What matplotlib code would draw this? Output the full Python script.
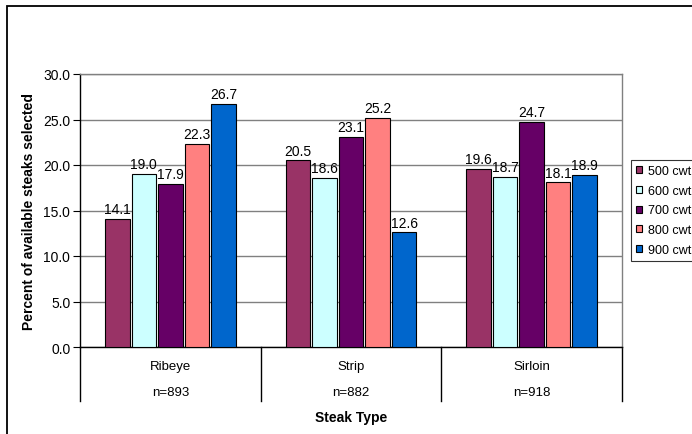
import numpy as np
import matplotlib.pyplot as plt
from matplotlib.patches import Rectangle
from matplotlib.transforms import blended_transform_factory

plt.rcParams['font.family'] = ['Liberation Sans', 'DejaVu Sans']

steaks = ['Ribeye', 'Strip', 'Sirloin']
counts = ['n=893', 'n=882', 'n=918']
weights = ['500 cwt', '600 cwt', '700 cwt', '800 cwt', '900 cwt']
pct = [
    [14.1, 20.5, 19.6],  # 500 cwt
    [19.0, 18.6, 18.7],  # 600 cwt
    [17.9, 23.1, 24.7],  # 700 cwt
    [22.3, 25.2, 18.1],  # 800 cwt
    [26.7, 12.6, 18.9],  # 900 cwt
]
colors = ['#993366', '#CCFFFF', '#660066', '#FF8080', '#0066CC']

fig = plt.figure(figsize=(6.92, 4.35), dpi=100)
fig.patches.append(Rectangle((7 / 692, -0.1), 1.2, 1 - 7 / 435 + 0.1,
                             transform=fig.transFigure, fill=False,
                             edgecolor='black', linewidth=1.3))

ax = fig.add_axes([80 / 692, 1 - 348 / 435, 542 / 692, 273 / 435])

x = np.arange(len(steaks))
step = 0.1467
width = 0.1356
for j, (vals, c) in enumerate(zip(pct, colors)):
    bars = ax.bar(x + (j - 2) * step, vals, width, color=c, edgecolor='black',
                  linewidth=0.8, label=weights[j], zorder=3)
    ax.bar_label(bars, fmt='%.1f', padding=2, fontsize=10)

ax.set_xlim(-0.5, 2.5)
ax.set_ylim(0, 30)
ax.set_yticks(np.arange(0, 31, 5))
ax.set_yticklabels([f'{v:.1f}' for v in np.arange(0, 31, 5)], fontsize=10)
ax.yaxis.grid(True, color='#808080', linewidth=1)
ax.tick_params(axis='y', length=5, width=0.8, pad=2)
ax.set_xticks([])

ax.spines['left'].set_color('black')
ax.spines['bottom'].set_color('black')
ax.spines['top'].set_color('#808080')
ax.spines['right'].set_color('#808080')
for s in ax.spines.values():
    s.set_linewidth(1)

ax.set_ylabel('Percent of available steaks selected', fontsize=10,
              fontweight='bold', labelpad=5)

# category table under the axis
trans = blended_transform_factory(ax.transData, ax.transAxes)
for b in [-0.5, 0.5, 1.5, 2.5]:
    ax.plot([b, b], [0, -54 / 273], transform=trans, color='black',
            linewidth=1, clip_on=False)
for i in x:
    ax.text(i, -19 / 273, steaks[i], transform=trans, ha='center',
            va='center', fontsize=9.5)
    ax.text(i, -45 / 273, counts[i], transform=trans, ha='center',
            va='center', fontsize=9.5)
ax.text(1, -70 / 273, 'Steak Type', transform=trans, ha='center',
        va='center', fontsize=10, fontweight='bold')

leg = fig.legend(loc='upper left', bbox_to_anchor=(631 / 692, 1 - 161 / 435),
                 borderaxespad=0, fontsize=9, frameon=True, fancybox=False,
                 edgecolor='black', handlelength=0.5, handleheight=0.5,
                 handletextpad=0.45, labelspacing=0.62, borderpad=0.4)
leg.get_frame().set_linewidth(0.8)

fig.savefig('out.png', dpi=100)
